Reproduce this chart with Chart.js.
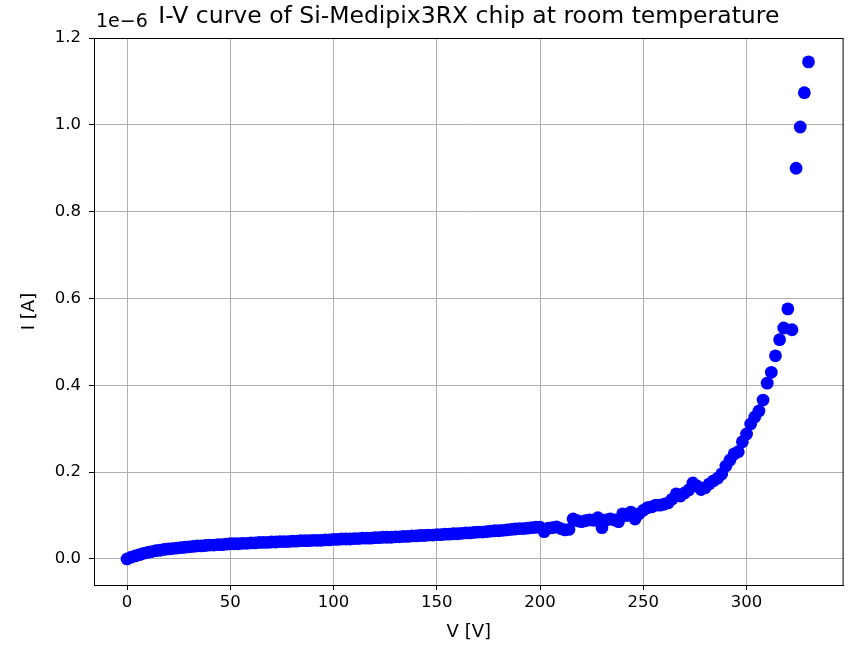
<!DOCTYPE html>
<html>
<head>
<meta charset="utf-8">
<script src="https://cdn.jsdelivr.net/npm/chart.js@4.4.1/dist/chart.umd.min.js"></script>
<style>
  html, body { margin: 0; padding: 0; background: #fff; }
  #wrap { width: 850px; height: 645px; }
</style>
</head>
<body>
<div id="wrap"><canvas id="ivChart" width="850" height="645"></canvas></div>
<script>
// bias voltage [V]
const volts = [0, 2, 4, 6, 8, 10, 12, 14, 16, 18, 20, 22, 24, 26, 28, 30, 32, 34, 36, 38,
  40, 42, 44, 46, 48, 50, 52, 54, 56, 58, 60, 62, 64, 66, 68, 70, 72, 74, 76, 78,
  80, 82, 84, 86, 88, 90, 92, 94, 96, 98, 100, 102, 104, 106, 108, 110, 112, 114, 116, 118,
  120, 122, 124, 126, 128, 130, 132, 134, 136, 138, 140, 142, 144, 146, 148, 150, 152, 154, 156, 158,
  160, 162, 164, 166, 168, 170, 172, 174, 176, 178, 180, 182, 184, 186, 188, 190, 192, 194, 196, 198,
  200, 202, 204, 206, 208, 210, 212, 214, 216, 218, 220, 222, 224, 226, 228, 230, 232, 234, 236, 238,
  240, 242, 244, 246, 248, 250, 252, 254, 256, 258, 260, 262, 264, 266, 268, 270, 272, 274, 276, 278,
  280, 282, 284, 286, 288, 290, 292, 294, 296, 298, 300, 302, 304, 306, 308, 310, 312, 314, 316, 318,
  320, 322, 324, 326, 328, 330];

// leakage current, in units of 1e-6 A
const current = [0.000, 0.004, 0.007, 0.010, 0.013, 0.015, 0.017, 0.019, 0.020, 0.022,
  0.023, 0.024, 0.025, 0.026, 0.027, 0.028, 0.029, 0.030, 0.030, 0.031,
  0.032, 0.032, 0.033, 0.033, 0.034, 0.035, 0.035, 0.035, 0.036, 0.036,
  0.037, 0.037, 0.038, 0.038, 0.038, 0.039, 0.039, 0.040, 0.040, 0.040,
  0.041, 0.041, 0.042, 0.042, 0.042, 0.043, 0.043, 0.043, 0.044, 0.044,
  0.045, 0.045, 0.046, 0.046, 0.046, 0.047, 0.047, 0.048, 0.048, 0.048,
  0.049, 0.049, 0.050, 0.050, 0.050, 0.051, 0.051, 0.052, 0.052, 0.053,
  0.053, 0.054, 0.054, 0.055, 0.055, 0.056, 0.056, 0.057, 0.057, 0.058,
  0.058, 0.059, 0.060, 0.060, 0.061, 0.062, 0.062, 0.063, 0.064, 0.065,
  0.065, 0.066, 0.067, 0.068, 0.069, 0.070, 0.070, 0.071, 0.072, 0.073,
  0.073, 0.063, 0.071, 0.072, 0.074, 0.070, 0.067, 0.068, 0.092, 0.088,
  0.086, 0.088, 0.090, 0.089, 0.095, 0.072, 0.090, 0.092, 0.090, 0.086,
  0.104, 0.100, 0.108, 0.092, 0.104, 0.112, 0.118, 0.120, 0.124, 0.124,
  0.126, 0.129, 0.138, 0.150, 0.145, 0.152, 0.159, 0.175, 0.168, 0.160,
  0.164, 0.173, 0.180, 0.186, 0.196, 0.214, 0.228, 0.242, 0.247, 0.270,
  0.288, 0.311, 0.327, 0.341, 0.366, 0.405, 0.430, 0.468, 0.505, 0.532,
  0.576, 0.528, 0.900, 0.995, 1.074, 1.145];

const xTicks = [0, 50, 100, 150, 200, 250, 300];
const yTicks = [0.0, 0.2, 0.4, 0.6, 0.8, 1.0, 1.2];

const titleText = "I-V curve of Si-Medipix3RX chip at room temperature";
const offsetText = "1e\u22126";
const FONT = "'DejaVu Sans', sans-serif";

// title, offset text and the frame around the axes
const extras = {
    id: "extras",
    afterDraw(chart) {
        const c = chart.ctx;
        const a = chart.chartArea;
        c.save();
        c.strokeStyle = "#000";
        c.lineWidth = 1;
        c.strokeRect(a.left + 0.5, a.top + 0.5, a.right - a.left - 1, a.bottom - a.top);
        c.fillStyle = "#000";
        c.textBaseline = "middle";
        c.textAlign = "center";
        c.font = "23.5px " + FONT;
        c.fillText(titleText, (a.left + a.right) / 2, 17);
        c.textAlign = "left";
        c.font = "19px " + FONT;
        c.fillText(offsetText, a.left + 2, 22);
        c.restore();
    }
};

var ctx = document.getElementById("ivChart").getContext("2d");
var points = volts.map((v, i) => ({ x: v, y: current[i] }));

var myChart = new Chart(ctx, {
    type: "scatter",
    data: {
        datasets: [{
            data: points,
            backgroundColor: "#0000ff",
            borderWidth: 0,
            pointRadius: 6.4,
            pointHoverRadius: 6.4
        }]
    },
    options: {
        responsive: false,
        animation: false,
        events: [],
        layout: { padding: { top: 38, right: 5, left: 0, bottom: 0 } },
        plugins: {
            legend: { display: false },
            tooltip: { enabled: false }
        },
        scales: {
            x: {
                type: "linear",
                min: -16,
                max: 347,
                afterFit: s => { s.height = 60; },
                afterBuildTicks: s => { s.ticks = xTicks.map(v => ({ value: v })); },
                grid: { color: "#b0b0b0", lineWidth: 1, tickColor: "#000", tickLength: 5 },
                border: { color: "#000", width: 1 },
                ticks: { color: "#000", font: { family: FONT, size: 16.5 }, padding: 3, maxRotation: 0 },
                title: { display: true, text: "V [V]", color: "#000", font: { family: FONT, size: 18 }, padding: { bottom: 2 } }
            },
            y: {
                type: "linear",
                min: -0.06,
                max: 1.2,
                afterFit: s => { s.width = 94; },
                afterBuildTicks: s => { s.ticks = yTicks.map(v => ({ value: v })); },
                grid: { color: "#b0b0b0", lineWidth: 1, tickColor: "#000", tickLength: 5 },
                border: { color: "#000", width: 1 },
                ticks: {
                    color: "#000",
                    font: { family: FONT, size: 16.5 },
                    padding: 8,
                    callback: v => v.toFixed(1)
                },
                title: { display: true, text: "I [A]", color: "#000", font: { family: FONT, size: 18 }, padding: { top: 19 } }
            }
        }
    },
    plugins: [extras]
});
</script>
</body>
</html>
